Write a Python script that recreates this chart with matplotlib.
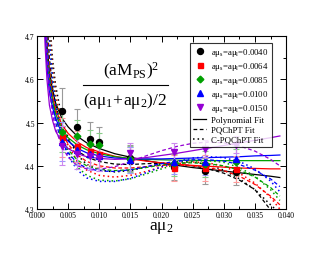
import matplotlib
matplotlib.use('Agg')
import matplotlib.pyplot as plt
import numpy as np
from matplotlib.ticker import MultipleLocator

plt.rcParams['font.family'] = 'Liberation Serif'
plt.rcParams['mathtext.fontset'] = 'custom'
plt.rcParams['mathtext.rm'] = 'Liberation Serif'
plt.rcParams['mathtext.it'] = 'Liberation Serif'

# Data points
mu2 = [0.004, 0.0064, 0.0085, 0.010, 0.015, 0.022, 0.027, 0.032]
labels = ['0.0040', '0.0064', '0.0085', '0.0100', '0.0150']
y_data = [
    [4.527, 4.489, 4.463, 4.455, 4.418, 4.397, 4.389, 4.385],
    [4.466, 4.445, 4.435, 4.428, 4.413, 4.394, 4.395, 4.392],
    [4.478, 4.470, 4.450, 4.447, 4.415, 4.407, 4.404, 4.408],
    [4.456, 4.436, 4.428, 4.422, 4.413, 4.410, 4.409, 4.416],
    [4.446, 4.428, 4.423, 4.418, 4.430, 4.433, 4.440, 4.449],
]
y_err = [
    [0.053, 0.042, 0.039, 0.035, 0.030, 0.030, 0.030, 0.030],
    [0.045, 0.035, 0.032, 0.030, 0.030, 0.030, 0.030, 0.030],
    [0.045, 0.035, 0.032, 0.030, 0.030, 0.030, 0.030, 0.030],
    [0.045, 0.035, 0.032, 0.030, 0.030, 0.030, 0.030, 0.030],
    [0.045, 0.035, 0.032, 0.030, 0.022, 0.020, 0.020, 0.020],
]

# Fit curves
x_fit = [0.0010, 0.0013, 0.0016, 0.002, 0.0025, 0.003, 0.004, 0.005, 0.0065, 0.008, 0.010,
         0.0125, 0.015, 0.0175, 0.020, 0.0225, 0.025, 0.0275, 0.030, 0.0325, 0.035, 0.0375, 0.039]
poly_fit = [
    [4.90, 4.76, 4.68, 4.62, 4.575, 4.545, 4.51, 4.49, 4.468, 4.453, 4.44, 4.428, 4.42, 4.412, 4.406, 4.401, 4.396, 4.392, 4.388, 4.384, 4.380, 4.376, 4.373],
    [4.88, 4.74, 4.66, 4.60, 4.56, 4.53, 4.495, 4.475, 4.455, 4.442, 4.432, 4.422, 4.416, 4.411, 4.407, 4.404, 4.401, 4.399, 4.397, 4.395, 4.394, 4.393, 4.393],
    [4.86, 4.73, 4.65, 4.59, 4.55, 4.52, 4.485, 4.465, 4.448, 4.437, 4.428, 4.421, 4.417, 4.415, 4.414, 4.413, 4.413, 4.412, 4.412, 4.412, 4.412, 4.412, 4.412],
    [4.84, 4.71, 4.63, 4.57, 4.535, 4.51, 4.475, 4.457, 4.440, 4.430, 4.423, 4.418, 4.416, 4.416, 4.416, 4.417, 4.418, 4.419, 4.420, 4.421, 4.423, 4.424, 4.425],
    [4.80, 4.68, 4.60, 4.54, 4.505, 4.48, 4.455, 4.44, 4.428, 4.421, 4.417, 4.415, 4.416, 4.419, 4.424, 4.429, 4.435, 4.441, 4.447, 4.453, 4.459, 4.465, 4.469],
]
pq_fit = [
    [5.00, 4.85, 4.74, 4.65, 4.58, 4.54, 4.49, 4.46, 4.435, 4.42, 4.41, 4.404, 4.403, 4.405, 4.406, 4.404, 4.40, 4.393, 4.383, 4.367, 4.345, 4.298, 4.275],
    [4.98, 4.83, 4.72, 4.63, 4.565, 4.525, 4.478, 4.45, 4.425, 4.41, 4.40, 4.395, 4.395, 4.398, 4.401, 4.402, 4.400, 4.396, 4.389, 4.376, 4.357, 4.33, 4.31],
    [4.96, 4.81, 4.70, 4.615, 4.55, 4.51, 4.465, 4.437, 4.413, 4.40, 4.392, 4.389, 4.391, 4.396, 4.402, 4.406, 4.407, 4.405, 4.40, 4.39, 4.374, 4.35, 4.33],
    [4.94, 4.80, 4.69, 4.60, 4.54, 4.50, 4.455, 4.43, 4.406, 4.395, 4.388, 4.387, 4.391, 4.398, 4.405, 4.411, 4.414, 4.414, 4.411, 4.403, 4.39, 4.37, 4.352],
    [4.90, 4.77, 4.66, 4.575, 4.52, 4.485, 4.445, 4.42, 4.40, 4.393, 4.392, 4.398, 4.41, 4.423, 4.435, 4.445, 4.452, 4.455, 4.453, 4.446, 4.434, 4.415, 4.40],
]
cpq_fit = [
    [5.2, 5.0, 4.86, 4.74, 4.645, 4.585, 4.51, 4.465, 4.425, 4.403, 4.39, 4.386, 4.389, 4.397, 4.405, 4.409, 4.409, 4.403, 4.39, 4.37, 4.345, 4.31, 4.29],
    [5.18, 4.98, 4.84, 4.72, 4.625, 4.565, 4.49, 4.447, 4.41, 4.39, 4.378, 4.374, 4.378, 4.387, 4.397, 4.405, 4.409, 4.407, 4.399, 4.383, 4.36, 4.327, 4.30],
    [5.16, 4.96, 4.82, 4.70, 4.61, 4.55, 4.475, 4.432, 4.397, 4.378, 4.367, 4.365, 4.37, 4.381, 4.393, 4.404, 4.411, 4.412, 4.408, 4.396, 4.376, 4.345, 4.32],
    [5.14, 4.95, 4.81, 4.69, 4.60, 4.54, 4.465, 4.423, 4.39, 4.372, 4.364, 4.364, 4.371, 4.384, 4.398, 4.41, 4.418, 4.421, 4.419, 4.41, 4.393, 4.365, 4.34],
]

x_ticks = [0.000, 0.005, 0.010, 0.015, 0.020, 0.025, 0.030, 0.035, 0.040]
y_ticks = [4.3, 4.4, 4.5, 4.6, 4.7]

colors = ['#000000', '#ff0000', '#00a000', '#0000ff', '#9400d3']
err_colors = ['#999999', '#ff9999', '#88cc88', '#9999ff', '#cc88ee']
markers = ['o', 's', 'D', '^', 'v']
msizes = [4.3, 3.6, 3.4, 4.3, 4.3]

fig = plt.figure(figsize=(3.3, 2.55), dpi=100)
ax = fig.add_axes([0.112, 0.176, 0.755, 0.679])

for i in range(5):
    ax.plot(x_fit, poly_fit[i], '-', color=colors[i], lw=0.9, zorder=2)
    ax.plot(x_fit, pq_fit[i], '--', color=colors[i], lw=0.9, dashes=(3, 2), zorder=2)
    if i < 4:
        ax.plot(x_fit, cpq_fit[i], ':', color=colors[i], lw=1.1, dashes=(1, 2), zorder=2)

handles = []
for i in range(5):
    ax.errorbar(mu2, y_data[i], yerr=y_err[i], fmt='none', ecolor=err_colors[i],
                elinewidth=0.8, capsize=2.5, capthick=0.8, zorder=3)
    h, = ax.plot(mu2, y_data[i], linestyle='none', marker=markers[i], color=colors[i],
                 ms=msizes[i], zorder=4,
                 label=r'a$\mathregular{\mu_s}$=a$\mathregular{\mu_l}$=' + labels[i])
    handles.append(h)

h1, = ax.plot([], [], '-', color='k', lw=0.9, label='Polynomial Fit')
h2, = ax.plot([], [], '--', color='k', lw=0.9, dashes=(3, 2), label='PQChPT Fit')
h3, = ax.plot([], [], ':', color='k', lw=1.1, dashes=(1, 2), label='C-PQChPT Fit')
handles += [h1, h2, h3]

leg = ax.legend(handles=handles, loc='upper right', bbox_to_anchor=(0.944, 0.96),
                fontsize=6.3, frameon=True, fancybox=False, edgecolor='black',
                handlelength=1.5, handletextpad=0.6, labelspacing=0.22,
                borderpad=0.35, borderaxespad=0)
leg.get_frame().set_linewidth(0.8)

ax.set_xlim(0, 0.04)
ax.set_ylim(4.3, 4.7)
ax.set_xticks(x_ticks)
ax.set_xticklabels([f'{v:.3f}' for v in x_ticks])
ax.set_yticks(y_ticks)
ax.set_yticklabels([f'{v:.1f}' for v in y_ticks])
ax.xaxis.set_minor_locator(MultipleLocator(0.0025))
ax.yaxis.set_minor_locator(MultipleLocator(0.05))
ax.tick_params(which='both', direction='in', top=True, right=True, labelsize=5.5, pad=1.5)
ax.tick_params(which='major', length=4, width=0.7)
ax.tick_params(which='minor', length=2, width=0.7)
for s in ax.spines.values():
    s.set_linewidth(0.8)

ax.set_xlabel(r'a$\mathregular{\mu_2}$', fontsize=12.5, labelpad=0)

# Big fraction annotation
ax.text(0.378, 0.80, r'$\mathregular{(aM_{PS})^2}$', transform=ax.transAxes,
        ha='center', va='center', fontsize=12.5)
ax.plot([0.185, 0.526], [0.717, 0.717], color='k', lw=0.8, transform=ax.transAxes)
ax.text(0.355, 0.63, r'$\mathregular{(a\mu_1\!+\!a\mu_2)/2}$', transform=ax.transAxes,
        ha='center', va='center', fontsize=12.5)

fig.savefig('out.png', dpi=100, facecolor='white')
